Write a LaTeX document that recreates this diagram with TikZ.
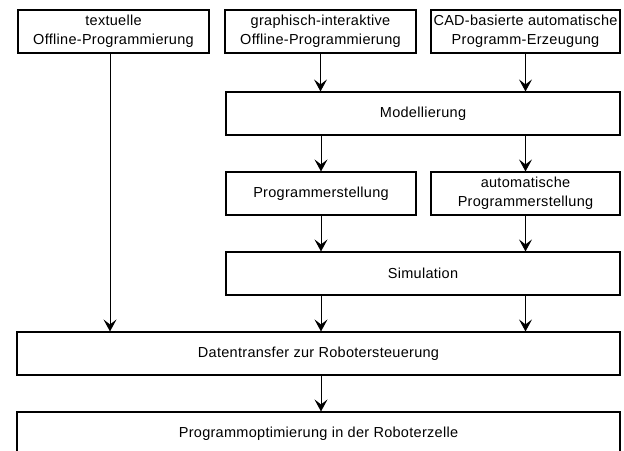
\documentclass[tikz,border=0pt]{standalone}
\usepackage{fontspec}
\setmainfont[LetterSpace=2]{Liberation Sans}
\usetikzlibrary{arrows.meta}

\begin{document}
\begin{tikzpicture}[%
    x=1pt, y=-1pt,
    every node/.style={
        font=\fontsize{14.5}{19}\selectfont,
    },
    stepBox/.style={
        draw, line width=1.1pt, rectangle, align=center,
        inner sep=0pt, minimum height=43pt,
    },
    flowArrow/.style={
        line width=1pt, -{Stealth[length=12pt,width=13pt,inset=5pt]},
    },
]
\useasboundingbox (0,0) rectangle (624,450);
\clip (0,0) rectangle (624,450);

% draw top row of methods
\node[stepBox, minimum width=191pt] (textual) at (113.5,31.5) {textuelle\\Offline-Programmierung};
\node[stepBox, minimum width=191pt] (graphic) at (320.5,31.5) {graphisch-interaktive\\Offline-Programmierung};
\node[stepBox, minimum width=189pt] (cad) at (525.5,31.5) {CAD-basierte automatische\\Programm-Erzeugung};

% draw middle steps
\node[stepBox, minimum width=394pt] (model) at (423,113.5) {Modellierung};
\node[stepBox, minimum width=190pt] (manual) at (321,193.5) {Programmerstellung};
\node[stepBox, minimum width=189pt] (auto) at (525.5,193.5) {automatische\\Programmerstellung};
\node[stepBox, minimum width=394pt] (sim) at (423,273.5) {Simulation};

% draw bottom steps
\node[stepBox, minimum width=603pt] (transfer) at (318.5,353.5) {Datentransfer zur Robotersteuerung};
\node[stepBox, minimum width=603pt] (optim) at (318.5,433.5) {Programmoptimierung in der Roboterzelle};

% draw arrows
\draw[flowArrow] ([xshift=-3.5pt]textual.south) -- ([xshift=-3.5pt]textual.south |- transfer.north);
\draw[flowArrow] (graphic.south) -- (graphic.south |- model.north);
\draw[flowArrow] (cad.south) -- (cad.south |- model.north);
\draw[flowArrow] (manual.north |- model.south) -- (manual.north);
\draw[flowArrow] (auto.north |- model.south) -- (auto.north);
\draw[flowArrow] (manual.south) -- (manual.south |- sim.north);
\draw[flowArrow] (auto.south) -- (auto.south |- sim.north);
\draw[flowArrow] (manual.south |- sim.south) -- (manual.south |- transfer.north);
\draw[flowArrow] (auto.south |- sim.south) -- (auto.south |- transfer.north);
\draw[flowArrow] (manual.south |- transfer.south) -- (manual.south |- optim.north);

\end{tikzpicture}
\end{document}
